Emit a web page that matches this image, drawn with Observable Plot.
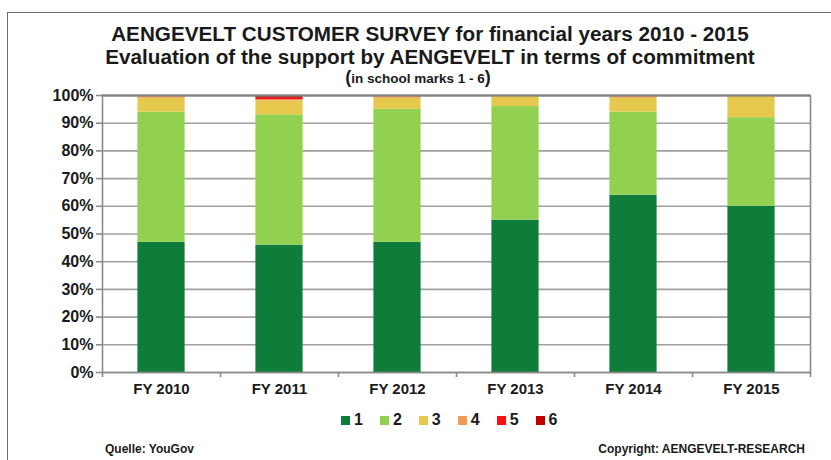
<!DOCTYPE html>
<html>
<head>
<meta charset="utf-8">
<script src="https://cdn.jsdelivr.net/npm/d3@7"></script>
<script src="https://cdn.jsdelivr.net/npm/@observablehq/plot@0.6"></script>
<style>
  html, body { margin: 0; padding: 0; background: #fff; }
  body { font-family: "Liberation Sans", Arial, sans-serif; color: #1a1a1a; }
  #wrap { position: relative; width: 831px; height: 460px; overflow: hidden; background: #fff; }
  #box { position: absolute; left: 7px; top: 12px; width: 900px; height: 600px; border: 1px solid #6e6e6e; box-sizing: border-box; }
  .t { position: absolute; left: 30px; width: 800px; text-align: center; font-weight: bold; white-space: nowrap; }
  #t1 { top: 22px; font-size: 20.7px; }
  #t2 { top: 45px; font-size: 20.7px; }
  #t3 { top: 67px; font-size: 13.5px; left: 18px; }
  #t3 .p { font-size: 18px; }
  #chart { position: absolute; left: 0; top: 85px; }
  #legend { position: absolute; left: 341px; top: 411px; display: flex; font-weight: bold; font-size: 16px; }
  #legend .it { display: flex; align-items: center; margin-right: 17px; }
  #legend .sw { width: 9px; height: 9px; margin-right: 4px; }
  .cap { position: absolute; top: 442px; font-size: 12px; font-weight: bold; }
</style>
</head>
<body>
<div id="wrap">
  <div id="box"></div>
  <div class="t" id="t1"></div>
  <div class="t" id="t2"></div>
  <div class="t" id="t3"></div>
  <div id="chart"></div>
  <div id="legend"></div>
  <div class="cap" id="c1" style="left:105px"></div>
  <div class="cap" id="c2" style="right:26px"></div>
</div>
<script>
const title1 = "AENGEVELT CUSTOMER SURVEY for financial years 2010 - 2015";
const title2 = "Evaluation of the support by AENGEVELT in terms of commitment";
const subtitle = "in school marks 1 - 6";
const source = "Quelle: YouGov";
const copyright = "Copyright: AENGEVELT-RESEARCH";

const years = ["FY 2010", "FY 2011", "FY 2012", "FY 2013", "FY 2014", "FY 2015"];
const marks = ["1", "2", "3", "4", "5", "6"];
const colors = ["#0f7d3a", "#92d050", "#e6c84c", "#f09a52", "#f50f0f", "#c00000"];
// shares in percent, per school mark
const mark1 = [47, 46, 47, 55, 64, 60];
const mark2 = [47, 47, 48, 41, 30, 32];
const mark3 = [5, 5, 4, 4, 5, 8];
const mark4 = [1, 0.5, 1, 0, 1, 0];
const mark5 = [0, 0.5, 0, 0, 0, 0];
const mark6 = [0, 1, 0, 0, 0, 0];
const yTicks = [0, 0.1, 0.2, 0.3, 0.4, 0.5, 0.6, 0.7, 0.8, 0.9, 1];

const series = [mark1, mark2, mark3, mark4, mark5, mark6];
const data = [];
series.forEach((vals, m) => vals.forEach((v, i) => data.push({i, year: years[i], mark: marks[m], value: v / 100})));

document.getElementById("t1").textContent = title1;
document.getElementById("t2").textContent = title2;
document.getElementById("t3").innerHTML = '<span class="p">(</span>' + subtitle + '<span class="p">)</span>';
document.getElementById("c1").textContent = source;
document.getElementById("c2").textContent = copyright;

const chart = Plot.plot({
  width: 831,
  height: 320,
  marginLeft: 102,
  marginRight: 21,
  marginTop: 10,
  marginBottom: 33,
  style: { fontFamily: "Liberation Sans, Arial, sans-serif", color: "#1a1a1a", background: "transparent" },
  x: { domain: [0, years.length], axis: null },
  y: { domain: [0, 1], axis: null },
  color: { domain: marks, range: colors },
  marks: [
    Plot.gridY(yTicks, { stroke: "#a0a0a0", strokeOpacity: 1, strokeWidth: 1.6 }),
    Plot.rectY(data, Plot.stackY({
      x1: d => d.i + 0.3,
      x2: d => d.i + 0.7,
      y: "value",
      fill: "mark",
      order: marks
    })),
    Plot.frame({ stroke: "#8a8a8a", strokeWidth: 1.6 }),
    Plot.ruleY([1], { stroke: "#808080", strokeWidth: 2 }),
    Plot.axisY({
      ticks: yTicks,
      tickFormat: d3.format(".0%"),
      tickSize: 6,
      tickPadding: 3,
      stroke: "#8a8a8a",
      strokeWidth: 1.6,
      fontSize: 16,
      fontWeight: "bold",
      label: null
    }),
    Plot.axisX({
      ticks: d3.range(0, years.length + 1),
      tickSize: 5,
      tickFormat: () => "",
      stroke: "#8a8a8a",
      strokeWidth: 1.6,
      label: null
    }),
    Plot.axisX({
      ticks: years.map((_, i) => i + 0.5),
      tickSize: 0,
      tickPadding: 11,
      tickFormat: v => years[Math.floor(v)],
      fontSize: 15,
      fontWeight: "bold",
      label: null
    })
  ]
});
document.getElementById("chart").appendChild(chart);

const legend = document.getElementById("legend");
marks.forEach((m, k) => {
  const it = document.createElement("div");
  it.className = "it";
  const sw = document.createElement("div");
  sw.className = "sw";
  sw.style.background = colors[k];
  const lab = document.createElement("span");
  lab.textContent = m;
  it.appendChild(sw);
  it.appendChild(lab);
  legend.appendChild(it);
});
</script>
</body>
</html>
